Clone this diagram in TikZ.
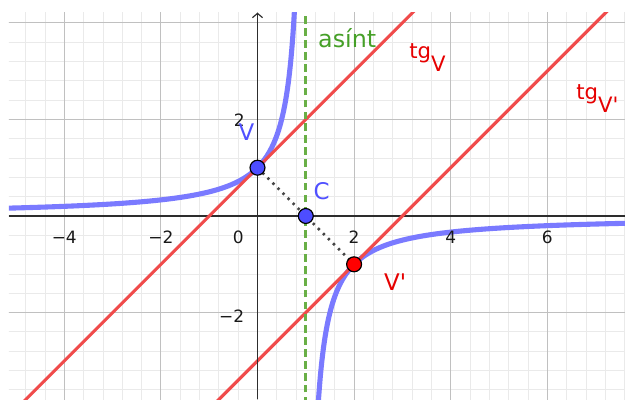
\documentclass[tikz,border=0pt]{standalone}
\usepackage{fontspec}
\newfontfamily\dvs{DejaVu Sans}
\usetikzlibrary{arrows.meta}
\definecolor{gridminor}{RGB}{234,234,234}
\definecolor{gridmajor}{RGB}{192,192,192}
\definecolor{axiscol}{RGB}{45,45,45}
\definecolor{curveblue}{RGB}{122,122,255}
\definecolor{tanred}{RGB}{240,75,75}
\definecolor{asgreen}{RGB}{105,175,70}
\definecolor{labgreen}{RGB}{70,160,40}
\definecolor{ptblue}{RGB}{77,77,255}
\definecolor{labblue}{RGB}{80,80,255}
\definecolor{labred}{RGB}{230,0,0}
\definecolor{dotcol}{RGB}{70,70,70}
\begin{document}
\begin{tikzpicture}[x=1cm,y=1cm,
  tick/.style={font=\dvs\fontsize{10}{12}\selectfont, text=black!90, inner sep=0pt},
  lab/.style={font=\dvs\fontsize{13.5}{16}\selectfont, inner sep=0pt},
  tglab/.style={font=\dvs\fontsize{12.5}{15}\selectfont, inner sep=0pt, text=labred, anchor=base west},
  ptnode/.style={circle, inner sep=0pt, minimum size=8.8pt, draw=black, line width=0.7pt},
  curve/.style={curveblue, line width=3pt},
  tanline/.style={tanred, line width=1.8pt},
  asline/.style={asgreen, line width=1.8pt, dash pattern=on 4.5pt off 2.5pt},
  axisline/.style={axiscol, line width=0.7pt}]
\useasboundingbox (-5.331,-3.789) rectangle (7.609,4.472);
\coordinate (V) at (0,1);
\coordinate (C) at (1,0);
\coordinate (Vp) at (2,-1);
\begin{scope}
\clip (-5.145,-3.789) rectangle (7.609,4.203);
\draw[gridminor, line width=0.5pt, step=0.4] (-5.6,-4) grid (8,4.4);
\draw[gridmajor, line width=0.6pt, step=2] (-6,-4) grid (8,4.4);
\draw[axisline] (-5.145,0) -- (7.609,0);
\draw[curve, domain=-5.3:0, samples=80, smooth] plot (\x,{-1/(\x-1)});
\draw[curve, domain=1:4.4, samples=80, smooth] plot ({1-1/\x},\x);
\draw[curve, domain=-4:-1, samples=80, smooth] plot ({1-1/\x},\x);
\draw[curve, domain=2:7.7, samples=80, smooth] plot (\x,{-1/(\x-1)});
\draw[tanline] (-5.3,-4.3) -- (3.4,4.4);
\draw[tanline] (-1,-4) -- (7.7,4.7);
\draw[asline] (1,-3.9) -- (1,4.4);
\end{scope}
\draw[axisline, -{Straight Barb[length=2.5pt,width=6pt]}] (0,-3.789) -- (0,4.21);
\draw[dotcol, line width=1.6pt, dash pattern=on 1.4pt off 2.8pt] (V) -- (Vp);
\node[ptnode, fill=ptblue] (Vpt) at (V) {};
\node[ptnode, fill=ptblue] (Cpt) at (C) {};
\node[ptnode, fill=red] (Vppt) at (Vp) {};
% tick labels
\node[tick] (xm4) at (-4,-0.435) {−4};
\node[tick] (xm2) at (-2,-0.435) {−2};
\node[tick] (x0) at (-0.40,-0.435) {0};
\node[tick] (x2) at (2,-0.435) {2};
\node[tick] (x4) at (4,-0.435) {4};
\node[tick] (x6) at (6,-0.435) {6};
\node[tick, anchor=east] (y2) at (-0.26,1.99) {2};
\node[tick, anchor=east] (ym2) at (-0.27,-2.07) {−2};
% labels
\node[lab, text=labblue] (Vlab) at (-0.23,1.73) {V};
\node[lab, text=labblue] (Clab) at (1.33,0.51) {C};
\node[lab, text=labred] (Vplab) at (2.85,-1.37) {V'};
\node[lab, text=labgreen, anchor=base west, font=\dvs\fontsize{14}{16}\selectfont] (aslab) at (1.25,3.485) {asínt};
\node[tglab] (tgV) at (3.137,3.265) {tg\raisebox{-7.5pt}{V}};
\node[tglab] (tgVp) at (6.594,2.402) {tg\raisebox{-7.5pt}{V'}};
\end{tikzpicture}
\end{document}
